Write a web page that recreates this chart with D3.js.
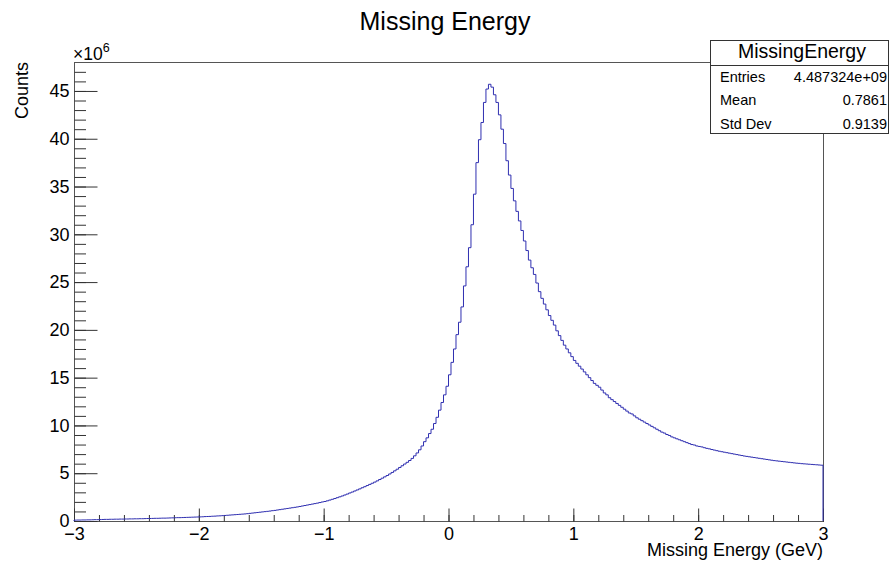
<!DOCTYPE html>
<meta charset="utf-8">
<html>
<head>
	<title>Missing Energy</title>
	<script type="text/javascript" src="https://cdn.jsdelivr.net/npm/d3@7"></script>
	<style>
		body { margin: 0; background: #fff; }
		text { font-family: "Liberation Sans", Arial, Helvetica, sans-serif; fill: #000; }
		.axis .domain { display: none; }
		.axis line { stroke: #333; }
	</style>
</head>
<body>
	<div id="chart"></div>
	<script>
		// histogram: 300 bins of 0.02 GeV from -3 to 3, counts in units of 1e6
		var xMin = -3, xMax = 3, binWidth = 0.02;
		var countsMillions = [
			// -3.0 .. -2.0
			0.09,0.10,0.10,0.11,0.11,0.12,0.12,0.13,0.14,0.14,
			0.15,0.16,0.17,0.17,0.18,0.18,0.19,0.19,0.20,0.20,
			0.21,0.21,0.22,0.22,0.23,0.23,0.24,0.24,0.25,0.26,
			0.26,0.27,0.28,0.28,0.29,0.30,0.30,0.31,0.32,0.33,
			0.34,0.35,0.35,0.36,0.37,0.38,0.39,0.40,0.41,0.42,
			// -2.0 .. -1.0
			0.43,0.44,0.46,0.47,0.48,0.50,0.51,0.53,0.54,0.56,
			0.58,0.60,0.62,0.64,0.66,0.68,0.70,0.72,0.74,0.77,
			0.80,0.83,0.86,0.89,0.92,0.95,0.98,1.01,1.04,1.08,
			1.11,1.15,1.19,1.23,1.27,1.31,1.35,1.39,1.43,1.47,
			1.52,1.57,1.62,1.67,1.72,1.77,1.82,1.87,1.93,1.99,
			// -1.0 .. 0.0
			2.04,2.11,2.19,2.27,2.35,2.44,2.53,2.62,2.72,2.82,
			2.93,3.03,3.14,3.25,3.36,3.48,3.59,3.71,3.83,3.95,
			4.07,4.20,4.34,4.48,4.62,4.76,4.92,5.08,5.25,5.42,
			5.60,5.78,5.96,6.14,6.33,6.55,6.82,7.12,7.45,7.85,
			8.30,8.70,9.15,9.60,10.2,10.85,11.6,12.4,13.2,14.1,
			// 0.0 .. 1.0
			15.3,16.6,18.0,19.5,20.8,22.4,24.6,26.6,28.6,31.0,
			34.2,37.5,39.9,41.7,43.8,45.2,45.7,45.4,44.6,43.8,
			42.5,41.0,39.5,37.7,36.2,34.8,33.5,32.4,31.4,30.4,
			29.3,28.3,27.3,26.5,25.8,24.9,24.0,23.3,22.7,22.1,
			21.5,21.0,20.5,19.9,19.4,18.9,18.4,18.0,17.6,17.2,
			// 1.0 .. 2.0
			16.8,16.5,16.2,15.9,15.6,15.3,15.0,14.7,14.4,14.2,
			14.0,13.7,13.4,13.2,12.9,12.7,12.5,12.3,12.1,11.9,
			11.7,11.5,11.3,11.2,11.0,10.8,10.65,10.5,10.35,10.2,
			10.05,9.90,9.75,9.60,9.45,9.30,9.20,9.05,8.95,8.80,
			8.70,8.60,8.50,8.40,8.30,8.20,8.10,8.00,7.95,7.85,
			// 2.0 .. 3.0
			7.80,7.75,7.67,7.60,7.55,7.48,7.42,7.36,7.30,7.25,
			7.20,7.15,7.10,7.05,7.00,6.95,6.90,6.85,6.80,6.76,
			6.72,6.68,6.64,6.60,6.56,6.52,6.48,6.44,6.40,6.36,
			6.32,6.29,6.26,6.23,6.20,6.17,6.14,6.11,6.08,6.05,
			6.03,6.00,5.98,5.96,5.94,5.92,5.90,5.88,5.86,5.84
		];
		var statLabels = ["Entries", "Mean", "Std Dev"];
		var statValues = ["4.487324e+09", "0.7861", "0.9139"];
		var xMajorTicks = [-3, -2, -1, 0, 1, 2, 3];
		var yMajorTicks = [0, 5, 10, 15, 20, 25, 30, 35, 40, 45];

		var w = 890, h = 566;
		// frame edges in pixels (note: "top" is taken by window.top)
		var fL = 74, fR = 823, fT = 62, fB = 521;

		var svg = d3.select("#chart").append("svg")
			.attr("width", w).attr("height", h);

		var x = d3.scaleLinear().domain([xMin, xMax]).range([fL, fR]);
		var y = d3.scaleLinear().domain([0, 48.03]).range([fB, fT]);

		// frame
		svg.append("rect")
			.attr("x", fL + 0.5).attr("y", fT + 0.5)
			.attr("width", fR - fL).attr("height", fB - fT)
			.style("fill", "none").style("stroke", "#555").style("stroke-width", 1);

		// minor ticks
		var xMinor = d3.range(-30, 31, 2).map(function (d) { return d / 10; });
		var yMinor = d3.range(0, 48, 1);

		svg.append("g").attr("class", "axis")
			.attr("transform", "translate(0," + (fB + 0.5) + ")")
			.call(d3.axisBottom(x).tickValues(xMinor).tickSize(-6.5).tickFormat(""));
		svg.append("g").attr("class", "axis")
			.attr("transform", "translate(" + (fL + 0.5) + ",0)")
			.call(d3.axisLeft(y).tickValues(yMinor).tickSize(-11.5).tickFormat(""));

		// major ticks + labels
		var fmt = function (d) { return d < 0 ? "\u2212" + Math.abs(d) : String(d); };
		svg.append("g").attr("class", "axis")
			.attr("transform", "translate(0," + (fB + 0.5) + ")")
			.call(d3.axisBottom(x).tickValues(xMajorTicks).tickSize(-13).tickPadding(6).tickFormat(fmt));
		svg.append("g").attr("class", "axis")
			.attr("transform", "translate(" + (fL + 0.5) + ",0)")
			.call(d3.axisLeft(y).tickValues(yMajorTicks).tickSize(-23).tickPadding(5).tickFormat(fmt));
		svg.selectAll(".axis text")
			.style("font-size", "18px")
			.style("font-family", "'Liberation Sans', Arial, sans-serif")
			.style("fill", "#000");

		// histogram outline
		var path = d3.path();
		path.moveTo(x(xMin), y(0));
		countsMillions.forEach(function (v, i) {
			var x0 = x(xMin + i * binWidth), x1 = x(xMin + (i + 1) * binWidth);
			path.lineTo(x0, y(v));
			path.lineTo(x1, y(v));
		});
		path.lineTo(x(xMax), y(0));
		svg.append("path")
			.attr("d", path.toString())
			.style("fill", "none")
			.style("stroke", "#2f2fb0")
			.style("stroke-width", 1);

		// title and axis titles
		svg.append("text")
			.attr("x", 445).attr("y", 30)
			.attr("text-anchor", "middle")
			.style("font-size", "25px")
			.text("Missing Energy");

		svg.append("text")
			.attr("x", fR).attr("y", 556)
			.attr("text-anchor", "end")
			.style("font-size", "18px")
			.text("Missing Energy (GeV)");

		svg.append("text")
			.attr("transform", "translate(28," + fT + ") rotate(-90)")
			.attr("text-anchor", "end")
			.style("font-size", "18px")
			.text("Counts");

		var mult = svg.append("text")
			.attr("x", fL - 1).attr("y", 60)
			.style("font-size", "17.5px");
		mult.append("tspan").text("\u00d710");
		mult.append("tspan").attr("dy", -8).style("font-size", "12.5px").text("6");

		// stats box
		var box = svg.append("g");
		box.append("rect")
			.attr("x", 710.5).attr("y", 40.5)
			.attr("width", 178).attr("height", 93)
			.style("fill", "#fff").style("stroke", "#333").style("stroke-width", 1);
		box.append("line")
			.attr("x1", 710.5).attr("x2", 888.5)
			.attr("y1", 65.5).attr("y2", 65.5)
			.style("stroke", "#333");
		box.append("text")
			.attr("x", 802).attr("y", 58)
			.attr("text-anchor", "middle")
			.style("font-size", "19.5px")
			.text("MissingEnergy");

		statLabels.forEach(function (lab, i) {
			box.append("text")
				.attr("x", 720).attr("y", 82 + i * 23.3)
				.style("font-size", "14.5px")
				.text(lab);
			box.append("text")
				.attr("x", 887).attr("y", 82 + i * 23.3)
				.attr("text-anchor", "end")
				.style("font-size", "14.5px")
				.text(statValues[i]);
		});
	</script>
</body>
</html>
